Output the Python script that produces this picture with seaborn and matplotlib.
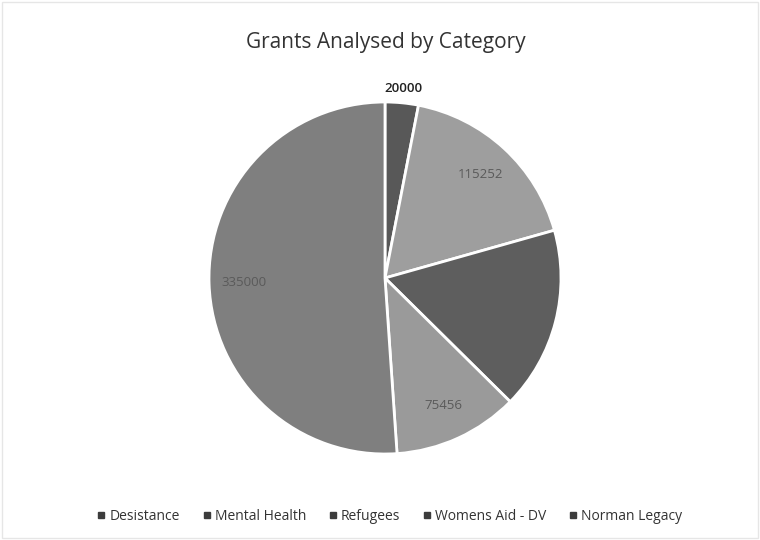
import numpy as np
import matplotlib
matplotlib.use('Agg')
import matplotlib.pyplot as plt
import seaborn as sns
from matplotlib.lines import Line2D

# 数据
categories = ['Desistance', 'Mental Health', 'Refugees', 'Womens Aid - DV', 'Norman Legacy']
amounts = [20000, 115252, 110000, 75456, 335000]
shown = ['20000', '115252', '', '75456', '335000']
colors = ['#585858', '#9e9e9e', '#5e5e5e', '#9a9a9a', '#7f7f7f']

sns.set_theme(style='white')
plt.rcParams['font.family'] = ['Open Sans', 'DejaVu Sans']

fig = plt.figure(figsize=(7.6, 5.4), dpi=100)
ax = fig.add_axes([209 / 760, 86 / 540, 352 / 760, 352 / 540])
wedges, _ = ax.pie(amounts, colors=colors, startangle=90, counterclock=False,
                   wedgeprops=dict(edgecolor='white', linewidth=2))
ax.set_xlim(-1, 1)
ax.set_ylim(-1, 1)
ax.set_aspect('equal')
ax.axis('off')

# 数据标签
for i, w in enumerate(wedges):
    if not shown[i]:
        continue
    mid = np.deg2rad((w.theta1 + w.theta2) / 2)
    if i == 0:
        r, col, fw = 1.08, '#222222', 'semibold'
    else:
        r, col, fw = 0.8, '#5a5a5a', 'normal'
    ax.text(r * np.cos(mid), r * np.sin(mid), shown[i], ha='center', va='center',
            fontsize=9.5, color=col, fontweight=fw, clip_on=False)

fig.text(0.507, 0.922, 'Grants Analysed by Category', ha='center', va='center',
         fontsize=15, color='#333333')

handles = [Line2D([], [], marker='s', linestyle='', markersize=4.5,
                  markerfacecolor='#3c3c3c', markeredgecolor='#3c3c3c') for c in colors]
fig.legend(handles, categories, loc='center', bbox_to_anchor=(0.51, 0.043), ncol=5,
           frameon=False, fontsize=10, handletextpad=0.0, handlelength=1.2,
           columnspacing=1.3, labelcolor='#333333')

fig.patches.append(plt.Rectangle((0.003, 0.003), 0.994, 0.994, transform=fig.transFigure,
                                 fill=False, edgecolor='#e6e6e6', linewidth=1))

fig.savefig('out.png', dpi=100, facecolor='white')
